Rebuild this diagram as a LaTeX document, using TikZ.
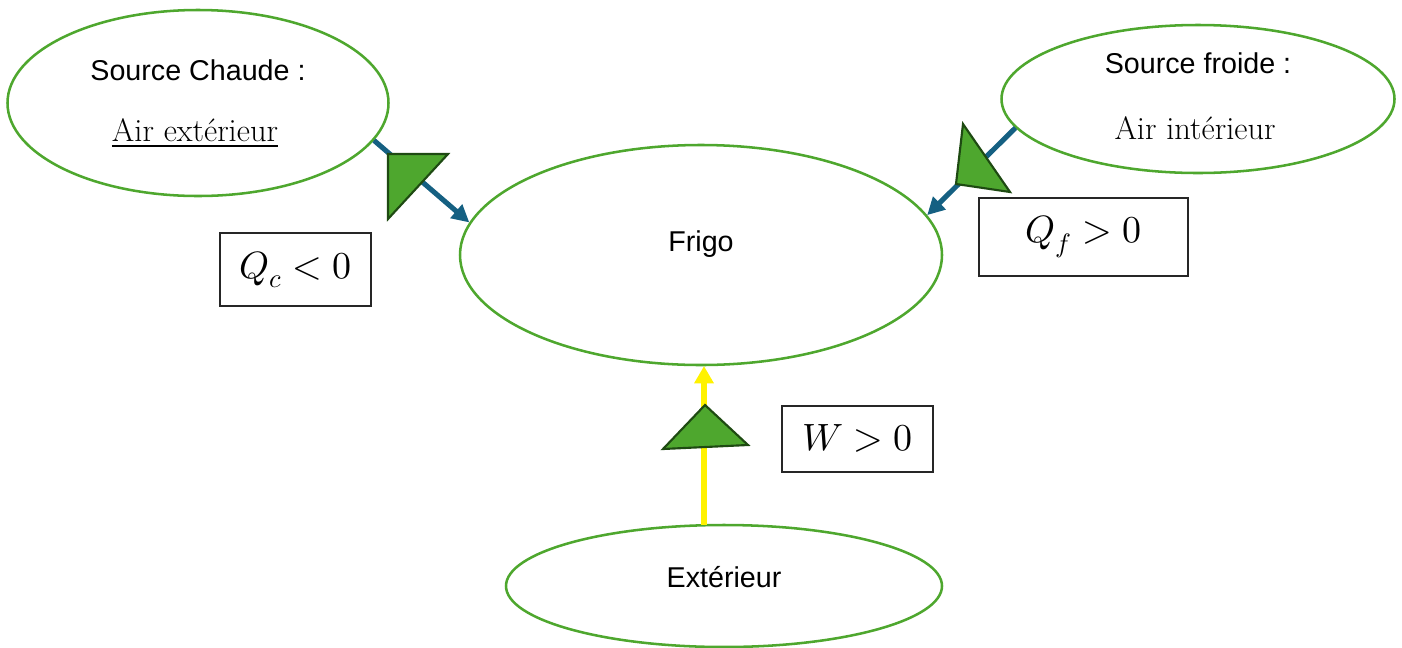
\documentclass[tikz,border=0pt]{standalone}
\usepackage{fontspec}
\usepackage{unicode-math}
\setmathfont{Latin Modern Math}
\newfontfamily\sansf{Liberation Sans}
\usetikzlibrary{shapes.geometric,arrows.meta}
\definecolor{ellgreen}{HTML}{4EA72E}
\definecolor{tridark}{HTML}{1E4A12}
\definecolor{arrblue}{HTML}{156082}
\tikzset{
  ell/.style={ellipse, draw=ellgreen, line width=1.9pt, inner sep=0pt},
  lbl/.style={font=\sansf\fontsize{21.5}{25}\selectfont, inner sep=0pt},
  serif/.style={font=\fontsize{24.3}{28}\selectfont, inner sep=0pt},
  mbox/.style={draw=black!85, line width=0.9pt, inner sep=0pt, font=\fontsize{28.5}{33}\selectfont},
  heat/.style={draw=arrblue, line width=3.8pt, -{Triangle[length=13pt,width=13pt]}},
  work/.style={draw=yellow, line width=5.2pt, -{Triangle[length=13pt,width=14pt]}},
  tri/.style={fill=ellgreen, draw=tridark, line width=1.6pt, line join=miter},
}
\begin{document}
\begin{tikzpicture}[x=0.75pt,y=-0.75pt]
\useasboundingbox (0,0) rectangle (1402,647);
% ellipses
\node[ell, minimum width=285.75pt, minimum height=139.5pt] (sc) at (198,103) {};
\node[ell, minimum width=294.75pt, minimum height=111pt] (sf) at (1198,99) {};
\node[ell, minimum width=361.5pt, minimum height=165pt] (frigo) at (701,255) {};
\node[ell, minimum width=327pt, minimum height=91.5pt] (ext) at (724,586) {};
% texts
\node[lbl] (sct) at (198,70) {Source Chaude :};
\node[serif] (sca) at (195,133) {\underline{Air extérieur}};
\node[lbl] (sft) at (1198,63) {Source froide :};
\node[serif] (sfa) at (1195,128) {Air intérieur};
\node[lbl] (frt) at (701,244) {Frigo};
\node[lbl] (extt) at (724,577) {Extérieur};
% boxes
\node[mbox, minimum width=113.25pt, minimum height=54.75pt] (qc) at (295.5,269.5) {$Q_c<0$};
\node[mbox, minimum width=156.75pt, minimum height=58.5pt] (qf) at (1083.5,237) {$Q_f>0$};
\node[mbox, minimum width=113.25pt, minimum height=49.5pt] (w) at (857.5,439) {$W>0$};
% arrows
\draw[heat] (sc.-12) -- (frigo.172);
\draw[heat] (sf.-171) -- (frigo.10);
\coordinate (wstart) at (704,525);
\coordinate (wend) at (704,366);
\draw[work] (wstart) -- (wend);
% triangles
\draw[tri] (388,154) -- (448,154) -- (388,219) -- cycle;
\draw[tri] (963,124) -- (1010,192) -- (956,184) -- cycle;
\draw[tri] (705,405) -- (748,445) -- (663,449) -- cycle;
\end{tikzpicture}
\end{document}
